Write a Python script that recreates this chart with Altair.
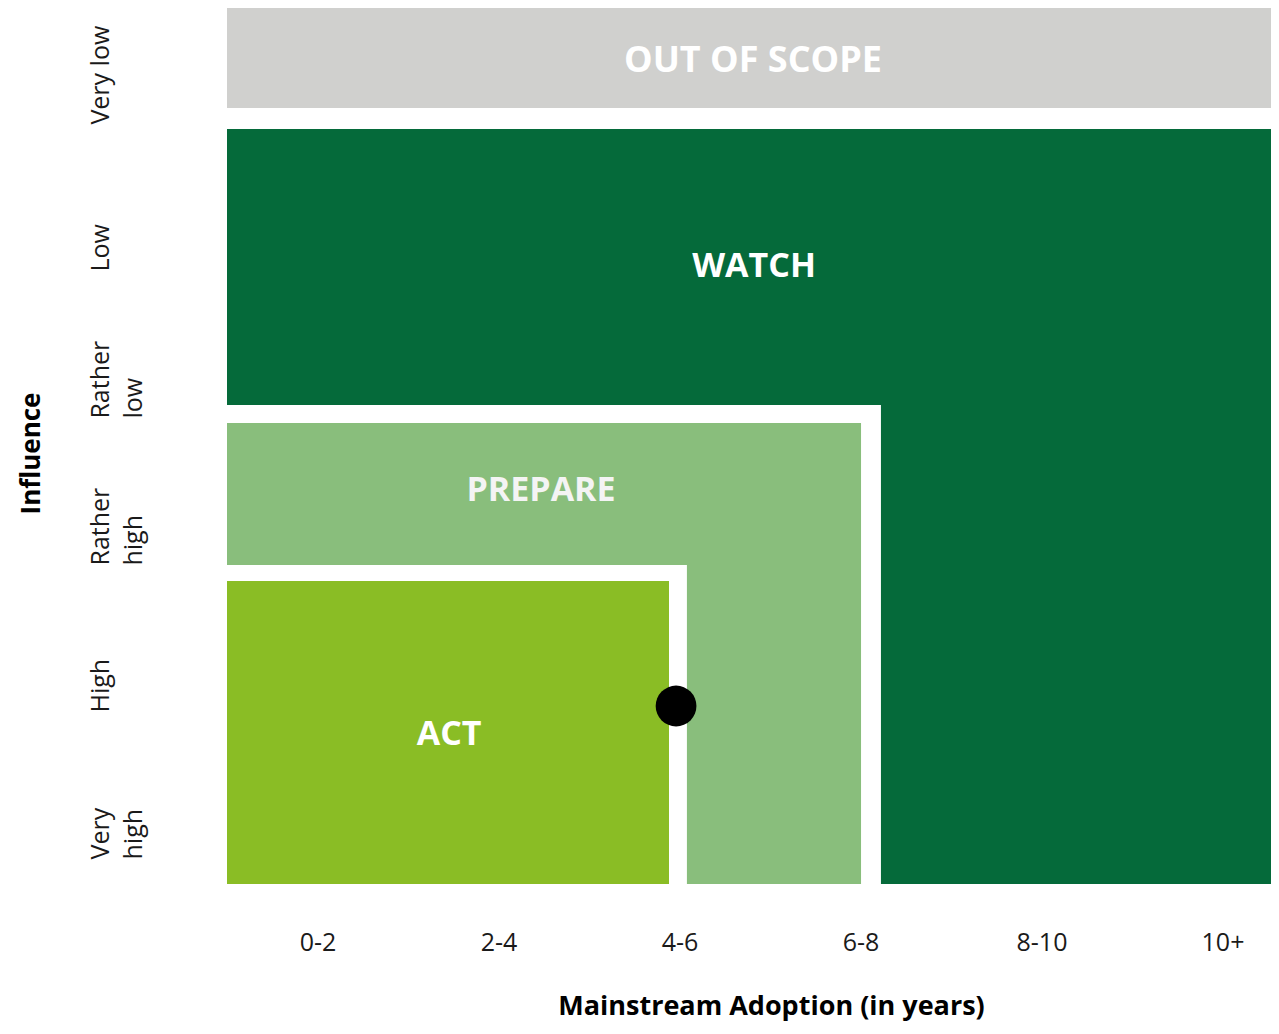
import altair as alt
import pandas as pd

# Axis categories
x_categories = ["0-2", "2-4", "4-6", "6-8", "8-10", "10+"]
# bottom to top; "|" marks a line break in the label
y_label_lines = ["Very|high", "High", "Rather|high", "Rather|low", "Low", "Very low"]
x_tick_values = [0.5, 1.5, 2.5, 3.5, 4.5, 5.5]
y_tick_values = [0, 1, 2, 3, 4, 5]

# Regions (drawn in this order), in column / row units
region_names = ["WATCH", "gap prepare", "PREPARE", "gap act", "ACT", "OUT OF SCOPE"]
region_x0 = [0, 0, 0, 0, 0, 0]
region_x1 = [5.768, 3.613, 3.503, 2.541, 2.442, 5.768]
region_y0 = [0, 0, 0, 0, 0, 5.279]
region_y1 = [5.136, 3.259, 3.136, 2.170, 2.061, 5.96]
region_colors = ["#056A3A", "#FFFFFF", "#89BE7C", "#FFFFFF", "#8ABD25", "#D0D0CE"]

# Region labels
label_text = ["OUT OF SCOPE", "WATCH", "PREPARE", "ACT"]
label_x = [2.906, 2.912, 1.735, 1.227]
label_y = [5.600, 4.200, 2.673, 1.014]
label_size = [36, 34, 34, 34]
label_color = ["#FFFFFF", "#FFFFFF", "#F4F4F4", "#FFFFFF"]

# Marker
point_x = [2.481]
point_y = [1.211]

regions = pd.DataFrame({
    "name": region_names, "x0": region_x0, "x1": region_x1,
    "y0": region_y0, "y1": region_y1, "color": region_colors,
})
labels = pd.DataFrame({
    "text": label_text, "x0": label_x, "y0": label_y,
    "size": label_size, "color": label_color,
})
points = pd.DataFrame({"x0": point_x, "y0": point_y})

FONT = "Open Sans"

x_arr = "[" + ",".join(f"'{c}'" for c in x_categories) + "]"
y_arr = "[" + ",".join(f"'{c}'" for c in y_label_lines) + "]"

xscale = alt.Scale(domain=[0, 5.768], nice=False, zero=False)
yscale = alt.Scale(domain=[0, 5.96], nice=False, zero=False)

xaxis = alt.Axis(
    values=x_tick_values,
    labelExpr=f"{x_arr}[floor(datum.value)]",
    grid=False, ticks=False, tickSize=0, domain=False,
    labelFont=FONT, labelFontSize=25, labelColor="#1A1A1A",
    labelPadding=46, labelFlush=False, labelOverlap=False,
    title="Mainstream Adoption (in years)",
    titleFont=FONT, titleFontSize=27, titleFontWeight="bold", titleColor="#000000",
    titlePadding=38, titleX=544,
)
yaxis = alt.Axis(
    values=y_tick_values,
    labelExpr=f"split({y_arr}[datum.value], '|')",
    labelAngle=270, labelAlign="left", labelBaseline="top",
    labelLineHeight=33, labelOffset=-25,
    grid=False, ticks=False, tickSize=0, domain=False,
    labelFont=FONT, labelFontSize=25, labelColor="#1A1A1A",
    labelPadding=139, labelFlush=False, labelOverlap=False,
    title="Influence",
    titleFont=FONT, titleFontSize=26, titleFontWeight="bold", titleColor="#000000",
    titlePadding=44, titleY=445,
)

X = lambda f: alt.X(f, type="quantitative", scale=xscale, axis=xaxis)
Y = lambda f: alt.Y(f, type="quantitative", scale=yscale, axis=yaxis)

rects = alt.Chart(regions).mark_rect(strokeWidth=0).encode(
    x=X("x0"), x2="x1", y=Y("y0"), y2="y1",
    color=alt.Color("color:N", scale=None),
)

texts = alt.Chart(labels).mark_text(
    font=FONT, fontWeight="bold", align="center", baseline="middle"
).encode(
    x=X("x0"), y=Y("y0"), text="text:N",
    size=alt.Size("size:Q", scale=None),
    color=alt.Color("color:N", scale=None),
)

dot = alt.Chart(points).mark_circle(size=1662, color="#000000", opacity=1).encode(
    x=X("x0"), y=Y("y0"),
)

chart = alt.layer(rects, texts, dot).properties(
    width=1044, height=876,
    autosize=alt.AutoSizeParams(type="none"),
    padding={"left": 219, "top": 0, "right": 0, "bottom": 140},
    background="#FFFFFF",
).configure_view(stroke=None)

chart.save("out.html", embed_options={"renderer": "svg", "actions": False})
